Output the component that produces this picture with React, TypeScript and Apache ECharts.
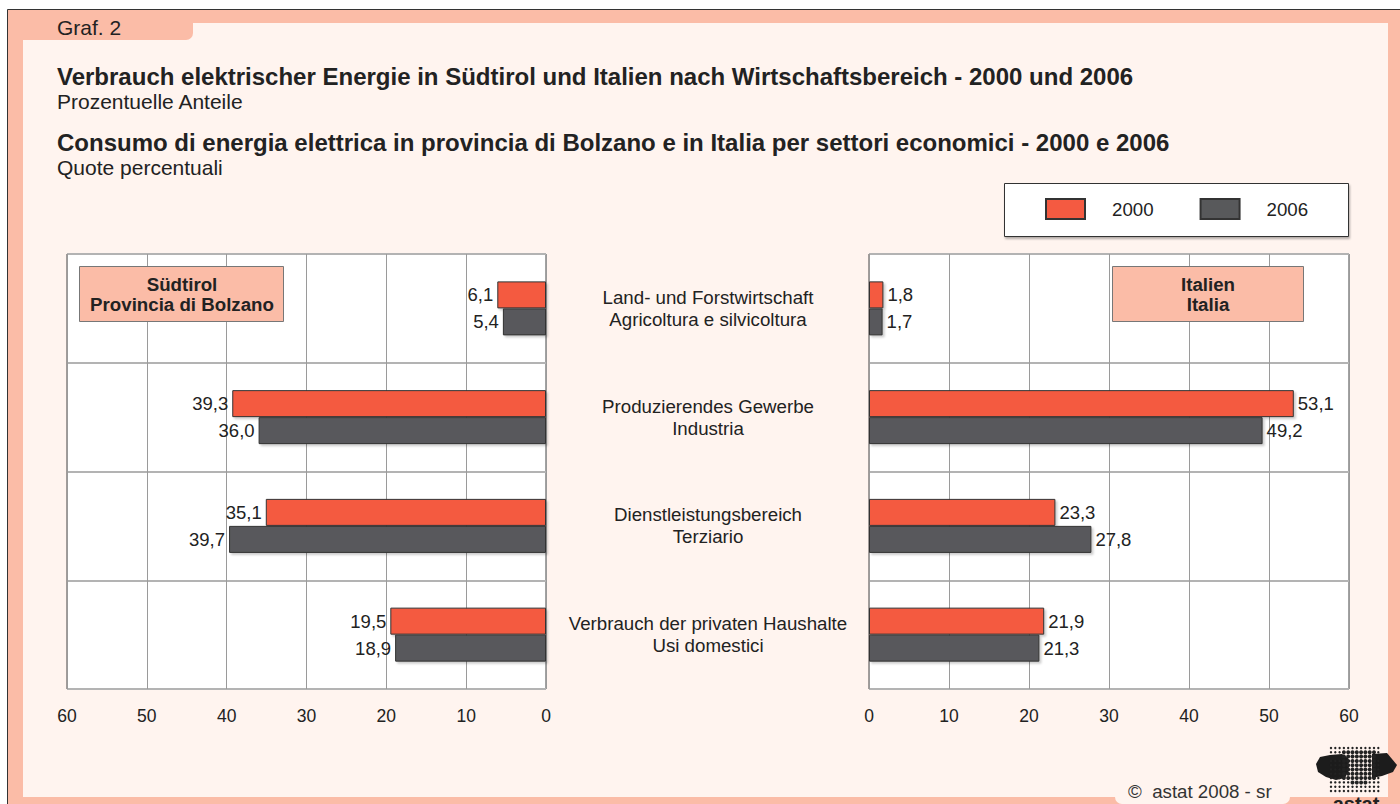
import React, { useEffect, useRef } from "react";
import * as echarts from "echarts";

const categories = [
  "Land- und Forstwirtschaft\nAgricoltura e silvicoltura",
  "Produzierendes Gewerbe\nIndustria",
  "Dienstleistungsbereich\nTerziario",
  "Verbrauch der privaten Haushalte\nUsi domestici",
];
const suedtirol2000 = [6.1, 39.3, 35.1, 19.5];
const suedtirol2006 = [5.4, 36.0, 39.7, 18.9];
const italien2000 = [1.8, 53.1, 23.3, 21.9];
const italien2006 = [1.7, 49.2, 27.8, 21.3];
const years = ["2000", "2006"];

const FONT = "'Liberation Sans', Arial, sans-serif";
const RED = "#F45A41";
const DARK = "#58595B";
const SALMON = "#FBBCA7";
const CREAM = "#FFF4EF";
const TXT = "#222";

const fmt = (p: any) => Number(p.value).toFixed(1).replace(".", ",");

function buildLogo(): any[] {
  const els: any[] = [];
  // left lobe
  els.push({
    type: "polygon",
    shape: {
      points: [
        [1316, 764], [1320, 757], [1330, 755], [1342, 754], [1348, 758], [1349, 770],
        [1345, 778], [1336, 780], [1326, 777], [1318, 772],
      ],
    },
    style: { fill: "#1c1c1c" },
    z: 10,
  });
  // right lobe
  els.push({
    type: "polygon",
    shape: {
      points: [
        [1372, 754], [1387, 753], [1392, 759], [1397, 765], [1393, 772], [1382, 776], [1372, 778],
      ],
    },
    style: { fill: "#1c1c1c" },
    z: 10,
  });
  for (let y = 748; y <= 795; y += 4.3) {
    for (let x = 1331; x <= 1382; x += 4.3) {
      const inner = y > 752 && y < 786 && x > 1340 && x < 1378 && !(y > 780 && (x < 1350 || x > 1368));
      els.push({ type: "circle", shape: { cx: x, cy: y, r: inner ? 2 : 1.2 }, style: { fill: "#222" }, z: 10 });
    }
  }
  els.push({
    type: "text",
    x: 1356,
    y: 794,
    style: { text: "astat", font: `bold 20px ${FONT}`, fill: "#222", align: "center", verticalAlign: "top" },
    z: 11,
  });
  return els;
}

export default function App() {
  const ref = useRef<HTMLDivElement>(null);
  useEffect(() => {
    if (!ref.current) return;
    const chart = echarts.init(ref.current, null, { renderer: "svg" });
    const barLabel = (pos: string) => ({
      show: true,
      position: pos,
      distance: 4,
      formatter: fmt,
      fontSize: 18.5,
      fontFamily: FONT,
      color: TXT,
    });
    const xCommon = {
      type: "value",
      min: 0,
      max: 60,
      interval: 10,
      axisLine: { show: false },
      axisTick: { show: false },
      splitLine: { show: true, lineStyle: { color: "#9a9a9a", width: 1 } },
      axisLabel: { fontSize: 17.5, fontFamily: FONT, color: TXT, margin: 18 },
    };
    const yCommon = {
      type: "category",
      data: categories,
      inverse: true,
      axisLine: { show: false },
      axisTick: { show: false },
      splitLine: { show: true, lineStyle: { color: "#b3b3b3", width: 2 } },
    };
    const itemStyle = (c: string) => ({
      color: c,
      borderColor: "#333",
      borderWidth: 1,
      shadowColor: "rgba(0,0,0,0.2)",
      shadowBlur: 2,
      shadowOffsetX: 2,
      shadowOffsetY: 2,
    });
    const option: any = {
      animation: false,
      backgroundColor: "#fff",
      textStyle: { fontFamily: FONT },
      grid: [
        { left: 67, top: 254, width: 479, height: 435, show: true, backgroundColor: "#fff", borderColor: "#444", borderWidth: 1 },
        { left: 869, top: 254, width: 480, height: 435, show: true, backgroundColor: "#fff", borderColor: "#444", borderWidth: 1 },
      ],
      xAxis: [
        { ...xCommon, gridIndex: 0, inverse: true },
        { ...xCommon, gridIndex: 1 },
      ],
      yAxis: [
        { ...yCommon, gridIndex: 0, axisLabel: { show: false } },
        {
          ...yCommon,
          gridIndex: 1,
          axisLabel: {
            show: true,
            margin: 161,
            align: "center",
            fontSize: 18.7,
            lineHeight: 22,
            fontFamily: FONT,
            color: TXT,
          },
        },
      ],
      legend: {
        data: years,
        left: 1045,
        top: 198,
        padding: 0,
        itemWidth: 39,
        itemHeight: 20,
        itemGap: 46,
        icon: "rect",
        z: 5,
        textStyle: { fontSize: 18.7, fontFamily: FONT, color: TXT, padding: [0, 0, 0, 22] },
        selectedMode: false,
      },
      series: [
        { name: "2000", type: "bar", xAxisIndex: 0, yAxisIndex: 0, data: suedtirol2000, barWidth: 27, barGap: "0%", itemStyle: itemStyle(RED), label: barLabel("left"), z: 3 },
        { name: "2006", type: "bar", xAxisIndex: 0, yAxisIndex: 0, data: suedtirol2006, barWidth: 27, barGap: "0%", itemStyle: itemStyle(DARK), label: barLabel("left"), z: 3 },
        { name: "2000", type: "bar", xAxisIndex: 1, yAxisIndex: 1, data: italien2000, barWidth: 27, barGap: "0%", itemStyle: itemStyle(RED), label: barLabel("right"), z: 3 },
        { name: "2006", type: "bar", xAxisIndex: 1, yAxisIndex: 1, data: italien2006, barWidth: 27, barGap: "0%", itemStyle: itemStyle(DARK), label: barLabel("right"), z: 3 },
      ],
      graphic: [
        { type: "rect", shape: { x: 7.5, y: 9.5, width: 1400, height: 800 }, style: { fill: SALMON, stroke: "#333", lineWidth: 1 }, z: -10, silent: true },
        { type: "rect", shape: { x: 23, y: 23, width: 1365, height: 774 }, style: { fill: CREAM }, z: -9, silent: true },
        { type: "rect", shape: { x: 8, y: 10, width: 185, height: 30, r: [0, 0, 7, 0] }, style: { fill: SALMON }, z: -8, silent: true },
        { type: "rect", shape: { x: 1115, y: 785, width: 175, height: 19, r: [0, 0, 7, 7] }, style: { fill: CREAM }, z: -8, silent: true },
        { type: "text", x: 57, y: 27, style: { text: "Graf. 2", font: `21px ${FONT}`, fill: TXT, verticalAlign: "middle" }, z: 1 },
        { type: "text", x: 57, y: 76, style: { text: "Verbrauch elektrischer Energie in Südtirol und Italien nach Wirtschaftsbereich - 2000 und 2006", font: `bold 24px ${FONT}`, fill: TXT, verticalAlign: "middle" }, z: 1 },
        { type: "text", x: 57, y: 101, style: { text: "Prozentuelle Anteile", font: `21px ${FONT}`, fill: TXT, verticalAlign: "middle" }, z: 1 },
        { type: "text", x: 57, y: 142, style: { text: "Consumo di energia elettrica in provincia di Bolzano e in Italia per settori economici - 2000 e 2006", font: `bold 24px ${FONT}`, fill: TXT, verticalAlign: "middle" }, z: 1 },
        { type: "text", x: 57, y: 167, style: { text: "Quote percentuali", font: `21px ${FONT}`, fill: TXT, verticalAlign: "middle" }, z: 1 },
        { type: "rect", shape: { x: 1004.5, y: 183.5, width: 344, height: 53 }, style: { fill: "#fff", stroke: "#333", lineWidth: 1, shadowColor: "rgba(0,0,0,0.3)", shadowBlur: 2, shadowOffsetX: 1, shadowOffsetY: 2 }, z: 1 },
        { type: "rect", shape: { x: 79.5, y: 266.5, width: 204, height: 55 }, style: { fill: SALMON, stroke: "#777", lineWidth: 1 }, z: 20 },
        { type: "text", x: 182, y: 294, style: { text: "Südtirol\nProvincia di Bolzano", font: `bold 18.7px ${FONT}`, lineHeight: 20, fill: TXT, align: "center", verticalAlign: "middle" }, z: 21 },
        { type: "rect", shape: { x: 1112.5, y: 266.5, width: 191, height: 55 }, style: { fill: SALMON, stroke: "#777", lineWidth: 1 }, z: 20 },
        { type: "text", x: 1208, y: 294, style: { text: "Italien\nItalia", font: `bold 18.7px ${FONT}`, lineHeight: 20, fill: TXT, align: "center", verticalAlign: "middle" }, z: 21 },
        { type: "text", x: 1128, y: 791, style: { text: "©  astat 2008 - sr", font: `18.7px ${FONT}`, fill: "#333", verticalAlign: "middle" }, z: 1 },
        ...buildLogo(),
      ],
    };
    chart.setOption(option);
    return () => chart.dispose();
  }, []);
  return <div ref={ref} style={{ position: "absolute", left: 0, top: 0, width: 1400, height: 804 }} />;
}
